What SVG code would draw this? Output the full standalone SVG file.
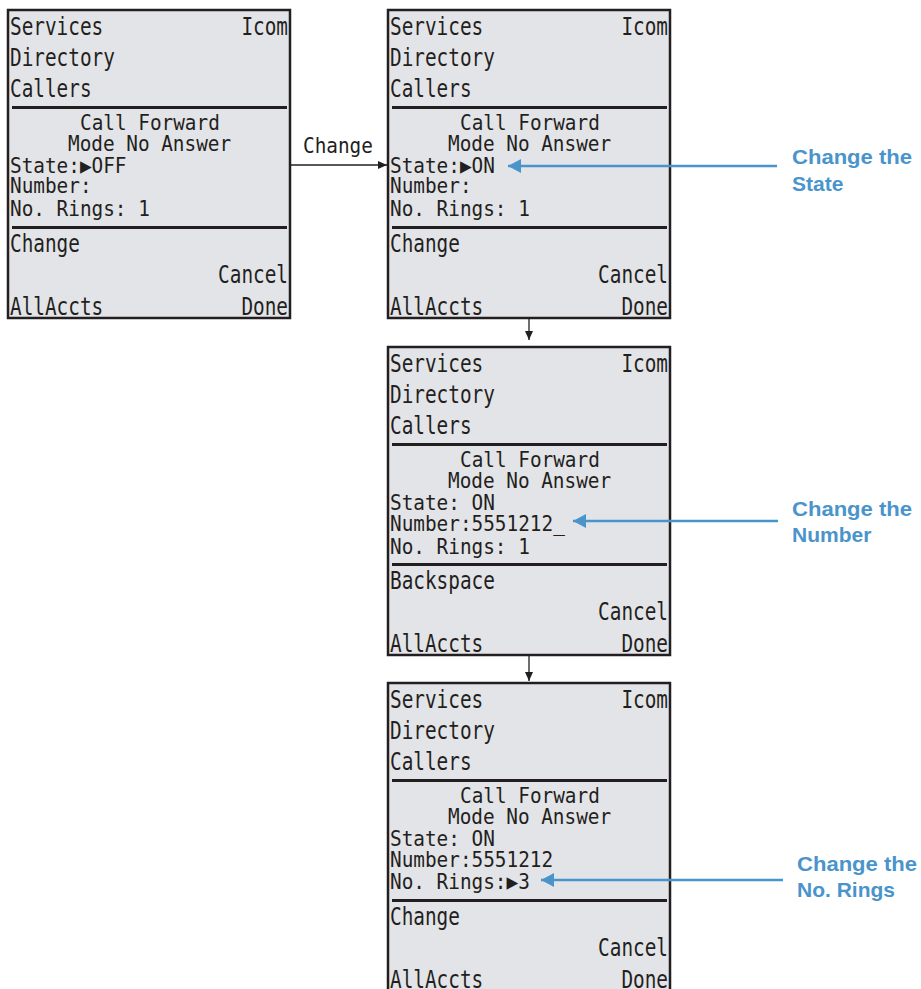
<svg xmlns="http://www.w3.org/2000/svg" width="921" height="989" viewBox="0 0 921 989">
<defs>
<style>
.scr{fill:#e3e4e8;stroke:#231f20;stroke-width:2.5}
.sep{stroke:#231f20;stroke-width:3}
text{font-family:"DejaVu Sans Mono","Liberation Mono",monospace;fill:#231f20}
.m{font-size:24px}
.s{font-size:21px}
.h{font-size:22px}
.lbl{font-family:"Liberation Sans",Arial,sans-serif;font-weight:bold;font-size:21px;fill:#4a94cc}
.blk{stroke:#231f20;stroke-width:1.3;fill:none}
.blu{stroke:#4a94cc;stroke-width:2.5;fill:none}
</style>
<marker id="ak" markerWidth="10" markerHeight="10" refX="9" refY="5" orient="auto" markerUnits="userSpaceOnUse">
<path d="M0,1 L9,5 L0,9 Z" fill="#231f20"/>
</marker>
<marker id="ab" markerWidth="14" markerHeight="14" refX="13" refY="7" orient="auto" markerUnits="userSpaceOnUse">
<path d="M0,0 L13,7 L0,14 Z" fill="#4a94cc"/>
</marker>
</defs>

<g id="screen1" transform="translate(8,10)">
<rect class="scr" x="0" y="0" width="282" height="308"/>
<text class="m" x="2" y="25" textLength="93.2" lengthAdjust="spacingAndGlyphs">Services</text>
<text class="m" x="233.4" y="25" textLength="46.6" lengthAdjust="spacingAndGlyphs">Icom</text>
<text class="m" x="2" y="56" textLength="104.9" lengthAdjust="spacingAndGlyphs">Directory</text>
<text class="m" x="2" y="87" textLength="81.6" lengthAdjust="spacingAndGlyphs">Callers</text>
<line class="sep" x1="4" y1="97.5" x2="279" y2="97.5"/>
<text class="h" x="72" y="120" textLength="139.8" lengthAdjust="spacingAndGlyphs">Call Forward</text>
<text class="s" x="60" y="141" textLength="163.1" lengthAdjust="spacingAndGlyphs">Mode No Answer</text>
<text class="s" x="2" y="163" textLength="116.5" lengthAdjust="spacingAndGlyphs">State:▶OFF</text>
<text class="s" x="2" y="183" textLength="81.6" lengthAdjust="spacingAndGlyphs">Number:</text>
<text class="s" x="2" y="206" textLength="139.8" lengthAdjust="spacingAndGlyphs">No. Rings: 1</text>
<line class="sep" x1="4" y1="217.5" x2="279" y2="217.5"/>
<text class="m" x="2" y="242" textLength="69.9" lengthAdjust="spacingAndGlyphs">Change</text>
<text class="m" x="210.1" y="273" textLength="69.9" lengthAdjust="spacingAndGlyphs">Cancel</text>
<text class="m" x="2" y="305" textLength="93.2" lengthAdjust="spacingAndGlyphs">AllAccts</text>
<text class="m" x="233.4" y="305" textLength="46.6" lengthAdjust="spacingAndGlyphs">Done</text>
</g>

<g id="screen2" transform="translate(388,10)">
<rect class="scr" x="0" y="0" width="282" height="308"/>
<text class="m" x="2" y="25" textLength="93.2" lengthAdjust="spacingAndGlyphs">Services</text>
<text class="m" x="233.4" y="25" textLength="46.6" lengthAdjust="spacingAndGlyphs">Icom</text>
<text class="m" x="2" y="56" textLength="104.9" lengthAdjust="spacingAndGlyphs">Directory</text>
<text class="m" x="2" y="87" textLength="81.6" lengthAdjust="spacingAndGlyphs">Callers</text>
<line class="sep" x1="4" y1="97.5" x2="279" y2="97.5"/>
<text class="h" x="72" y="120" textLength="139.8" lengthAdjust="spacingAndGlyphs">Call Forward</text>
<text class="s" x="60" y="141" textLength="163.1" lengthAdjust="spacingAndGlyphs">Mode No Answer</text>
<text class="s" x="2" y="163" textLength="104.9" lengthAdjust="spacingAndGlyphs">State:▶ON</text>
<text class="s" x="2" y="183" textLength="81.6" lengthAdjust="spacingAndGlyphs">Number:</text>
<text class="s" x="2" y="206" textLength="139.8" lengthAdjust="spacingAndGlyphs">No. Rings: 1</text>
<line class="sep" x1="4" y1="217.5" x2="279" y2="217.5"/>
<text class="m" x="2" y="242" textLength="69.9" lengthAdjust="spacingAndGlyphs">Change</text>
<text class="m" x="210.1" y="273" textLength="69.9" lengthAdjust="spacingAndGlyphs">Cancel</text>
<text class="m" x="2" y="305" textLength="93.2" lengthAdjust="spacingAndGlyphs">AllAccts</text>
<text class="m" x="233.4" y="305" textLength="46.6" lengthAdjust="spacingAndGlyphs">Done</text>
</g>

<g id="screen3" transform="translate(388,347)">
<rect class="scr" x="0" y="0" width="282" height="308"/>
<text class="m" x="2" y="25" textLength="93.2" lengthAdjust="spacingAndGlyphs">Services</text>
<text class="m" x="233.4" y="25" textLength="46.6" lengthAdjust="spacingAndGlyphs">Icom</text>
<text class="m" x="2" y="56" textLength="104.9" lengthAdjust="spacingAndGlyphs">Directory</text>
<text class="m" x="2" y="87" textLength="81.6" lengthAdjust="spacingAndGlyphs">Callers</text>
<line class="sep" x1="4" y1="97.5" x2="279" y2="97.5"/>
<text class="h" x="72" y="120" textLength="139.8" lengthAdjust="spacingAndGlyphs">Call Forward</text>
<text class="s" x="60" y="141" textLength="163.1" lengthAdjust="spacingAndGlyphs">Mode No Answer</text>
<text class="s" x="2" y="163" textLength="104.9" lengthAdjust="spacingAndGlyphs">State: ON</text>
<text class="s" x="2" y="184" textLength="174.8" lengthAdjust="spacingAndGlyphs">Number:5551212_</text>
<text class="s" x="2" y="207" textLength="139.8" lengthAdjust="spacingAndGlyphs">No. Rings: 1</text>
<line class="sep" x1="4" y1="217.5" x2="279" y2="217.5"/>
<text class="m" x="2" y="242" textLength="104.9" lengthAdjust="spacingAndGlyphs">Backspace</text>
<text class="m" x="210.1" y="273" textLength="69.9" lengthAdjust="spacingAndGlyphs">Cancel</text>
<text class="m" x="2" y="305" textLength="93.2" lengthAdjust="spacingAndGlyphs">AllAccts</text>
<text class="m" x="233.4" y="305" textLength="46.6" lengthAdjust="spacingAndGlyphs">Done</text>
</g>

<g id="screen4" transform="translate(388,683)">
<rect class="scr" x="0" y="0" width="282" height="308"/>
<text class="m" x="2" y="25" textLength="93.2" lengthAdjust="spacingAndGlyphs">Services</text>
<text class="m" x="233.4" y="25" textLength="46.6" lengthAdjust="spacingAndGlyphs">Icom</text>
<text class="m" x="2" y="56" textLength="104.9" lengthAdjust="spacingAndGlyphs">Directory</text>
<text class="m" x="2" y="87" textLength="81.6" lengthAdjust="spacingAndGlyphs">Callers</text>
<line class="sep" x1="4" y1="97.5" x2="279" y2="97.5"/>
<text class="h" x="72" y="120" textLength="139.8" lengthAdjust="spacingAndGlyphs">Call Forward</text>
<text class="s" x="60" y="141" textLength="163.1" lengthAdjust="spacingAndGlyphs">Mode No Answer</text>
<text class="s" x="2" y="163" textLength="104.9" lengthAdjust="spacingAndGlyphs">State: ON</text>
<text class="s" x="2" y="184" textLength="163.1" lengthAdjust="spacingAndGlyphs">Number:5551212</text>
<text class="s" x="2" y="206" textLength="139.8" lengthAdjust="spacingAndGlyphs">No. Rings:▶3</text>
<line class="sep" x1="4" y1="217.5" x2="279" y2="217.5"/>
<text class="m" x="2" y="242" textLength="69.9" lengthAdjust="spacingAndGlyphs">Change</text>
<text class="m" x="210.1" y="273" textLength="69.9" lengthAdjust="spacingAndGlyphs">Cancel</text>
<text class="m" x="2" y="305" textLength="93.2" lengthAdjust="spacingAndGlyphs">AllAccts</text>
<text class="m" x="233.4" y="305" textLength="46.6" lengthAdjust="spacingAndGlyphs">Done</text>
</g>

<g id="connectors">
<line class="blk" x1="291" y1="165" x2="387" y2="165" marker-end="url(#ak)"/>
<text class="h" x="303" y="153" textLength="69.9" lengthAdjust="spacingAndGlyphs">Change</text>
<line class="blk" x1="529" y1="319" x2="529" y2="340" marker-end="url(#ak)"/>
<line class="blk" x1="529" y1="656" x2="529" y2="681" marker-end="url(#ak)"/>
<line class="blu" x1="777" y1="166" x2="508" y2="166" marker-end="url(#ab)"/>
<line class="blu" x1="778" y1="521" x2="573" y2="521" marker-end="url(#ab)"/>
<line class="blu" x1="783" y1="880" x2="541" y2="880" marker-end="url(#ab)"/>
</g>

<g id="label1">
<text class="lbl" x="792" y="164" textLength="120" lengthAdjust="spacingAndGlyphs">Change the</text>
<text class="lbl" x="792" y="191">State</text>
</g>
<g id="label2">
<text class="lbl" x="792" y="516" textLength="120" lengthAdjust="spacingAndGlyphs">Change the</text>
<text class="lbl" x="792" y="542">Number</text>
</g>
<g id="label3">
<text class="lbl" x="797" y="871" textLength="120" lengthAdjust="spacingAndGlyphs">Change the</text>
<text class="lbl" x="797" y="897">No. Rings</text>
</g>
</svg>
